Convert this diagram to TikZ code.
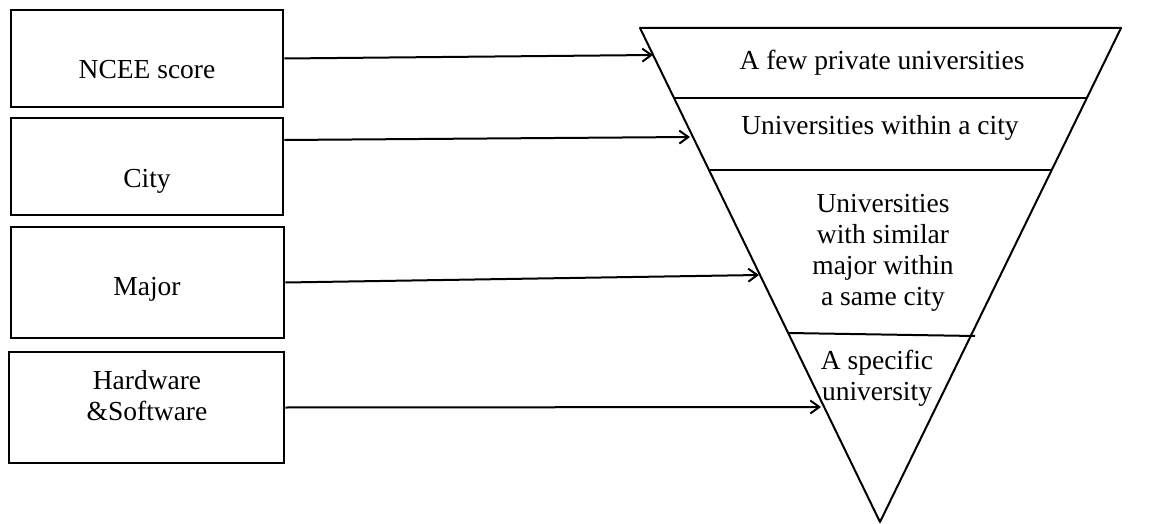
\documentclass[tikz,border=0pt]{standalone}
\usepackage{fontspec}
\setmainfont{Liberation Serif}
\usetikzlibrary{arrows.meta}
\begin{document}
\begin{tikzpicture}[x=0.5pt,y=-0.5pt,
  box/.style={draw, line width=1.3pt, inner sep=0pt},
  lbl/.style={font=\fontsize{13.75}{15.5}\selectfont, inner sep=0pt, align=center, anchor=base},
  arr/.style={line width=1pt, -{Straight Barb[length=4.5pt,width=6.5pt,line width=1pt]}},
  edgeline/.style={line width=1pt}]
\useasboundingbox (0,0) rectangle (1152,524);
% left boxes
\node[box, minimum width=136pt, minimum height=48.5pt] (b1) at (147,58.5) {};
\node[box, minimum width=136pt, minimum height=48.5pt] (b2) at (147,166.5) {};
\node[box, minimum width=136.5pt, minimum height=55.5pt] (b3) at (147.5,282.5) {};
\node[box, minimum width=137.5pt, minimum height=55.5pt] (b4) at (146.5,407.5) {};
\node[lbl] (t1) at (147,79) {NCEE score};
\node[lbl] (t2) at (147,187) {City};
\node[lbl] (t3) at (147,295) {Major};
\node[lbl] (t4) at (147,420) {Hardware\\\&Software};
% funnel
\coordinate (TL) at (640,28);
\coordinate (TR) at (1121,28);
\coordinate (B) at (880,522);
\draw[edgeline, line join=round] (TL) -- (TR) -- (B) -- cycle;
\coordinate (L1) at (674,98);  \coordinate (R1) at (1087,98);
\coordinate (L2) at (710,170); \coordinate (R2) at (1052,170);
\coordinate (L3) at (788,333); \coordinate (R3) at (975,336);
\draw[edgeline] (L1) -- (R1);
\draw[edgeline] (L2) -- (R2);
\draw[edgeline] (L3) -- (R3);
\node[lbl] (f1) at (882,70) {A few private universities};
\node[lbl] (f2) at (880,135) {Universities within a city};
\node[lbl] (f3) at (883,305) {Universities\\with similar\\major within\\a same city};
\node[lbl] (f4) at (877,400) {A specific\\university};
% arrows
\coordinate (e1) at (653,55);
\coordinate (e2) at (690,137);
\coordinate (e3) at (759,275);
\coordinate (e4) at (821,407);
\draw[arr] (b1.east) -- (e1);
\draw[arr] (b2.east |- 0,140) -- (e2);
\draw[arr] (b3.east) -- (e3);
\draw[arr] (b4.east) -- (e4);
\end{tikzpicture}
\end{document}
